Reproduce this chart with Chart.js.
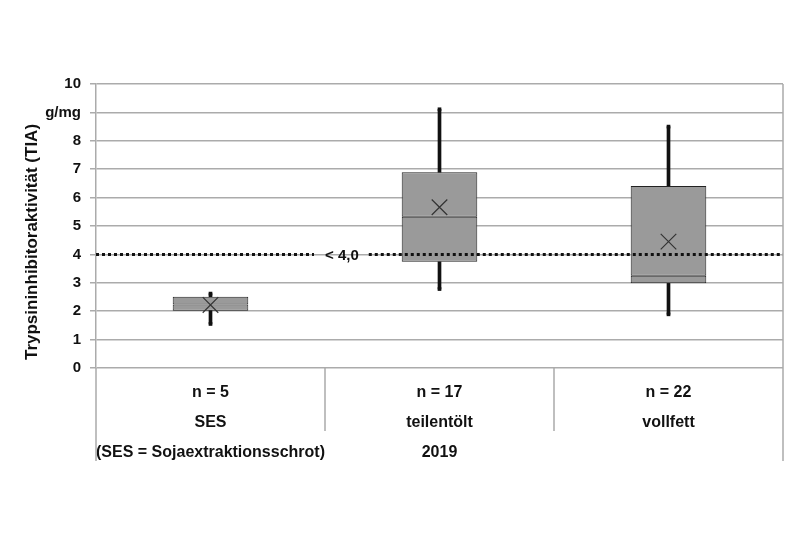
<!DOCTYPE html>
<html>
<head>
<meta charset="utf-8">
<script src="https://cdn.jsdelivr.net/npm/chart.js@4"></script>
<style>
  html, body { margin: 0; padding: 0; background: #fff; }
  #wrap { width: 800px; height: 533px; }
</style>
</head>
<body>
<div id="wrap"><canvas id="c" width="800" height="533"></canvas></div>
<script>
// --- Data ---
const categories = [
    ['n = 5', 'SES', '(SES = Sojaextraktionsschrot)'],
    ['n = 17', 'teilentölt', '2019'],
    ['n = 22', 'vollfett']
];
const mins    = [1.55, 2.78, 1.89];
const q1      = [2.02, 3.74, 2.98];
const medians = [2.24, 5.33, 3.25];
const q3      = [2.51, 6.89, 6.41];
const maxs    = [2.62, 9.11, 8.50];
const means   = [2.22, 5.66, 4.45];
const yTicks  = [0, 1, 2, 3, 4, 5, 6, 7, 8, 9, 10];
const yTickLabels = ['0', '1', '2', '3', '4', '5', '6', '7', '8', 'g/mg', '10'];
const threshold = 4;
const thresholdLabel = '< 4,0';
const yTitle = 'Trypsininhibitoraktivität (TIA)';

const FONT = "'Liberation Sans', Arial, sans-serif";
const GRID = '#ababab';

// --- Extra drawing: threshold line, table lines, axis title ---
const extras = {
    id: 'extras',
    afterDatasetsDraw(chart) {
        const { ctx, chartArea: a, scales: { x, y } } = chart;
        const half = (x.getPixelForValue(1) - x.getPixelForValue(0)) / 2;
        const div1 = x.getPixelForValue(0) + half;
        const yT = y.getPixelForValue(threshold);

        ctx.save();
        // dotted threshold
        ctx.font = 'bold 15px ' + FONT;
        const lw = ctx.measureText(thresholdLabel).width;
        ctx.strokeStyle = '#111'; ctx.lineWidth = 3; ctx.setLineDash([3, 3]);
        ctx.beginPath();
        ctx.moveTo(a.left, yT); ctx.lineTo(div1 - 11, yT);
        ctx.moveTo(div1 + lw + 10, yT); ctx.lineTo(a.right, yT);
        ctx.stroke();
        ctx.setLineDash([]);
        ctx.fillStyle = '#111'; ctx.textBaseline = 'middle'; ctx.textAlign = 'left';
        ctx.fillText(thresholdLabel, div1, yT + 1);

        // table lines
        ctx.strokeStyle = GRID; ctx.lineWidth = 1.5;
        ctx.beginPath();
        ctx.moveTo(a.left, a.bottom); ctx.lineTo(a.left, 461);
        ctx.moveTo(a.right, a.top); ctx.lineTo(a.right, 461);
        for (let i = 0; i < categories.length - 1; i++) {
            const d = x.getPixelForValue(i) + half;
            ctx.moveTo(d, a.bottom); ctx.lineTo(d, 431);
        }
        ctx.stroke();

        // y title
        ctx.translate(32, 242);
        ctx.rotate(-Math.PI / 2);
        ctx.font = 'bold 17px ' + FONT;
        ctx.textAlign = 'center';
        ctx.fillStyle = '#111';
        ctx.fillText(yTitle, 0, 0);
        ctx.restore();
    }
};

new Chart(document.getElementById('c'), {
    type: 'bar',
    data: {
        labels: categories,
        datasets: [
            {
                label: 'whisker low', data: mins.map((v, i) => [v, q1[i]]),
                backgroundColor: '#111', barThickness: 3, grouped: false, order: 5
            },
            {
                label: 'whisker high', data: maxs.map((v, i) => [q3[i], v]),
                backgroundColor: '#111', barThickness: 3, grouped: false, order: 5
            },
            {
                label: 'box low', data: medians.map((v, i) => [q1[i], v]),
                backgroundColor: '#9a9a9a', borderColor: '#222', borderWidth: 1, borderSkipped: false,
                barPercentage: 0.33, categoryPercentage: 1, grouped: false, order: 4
            },
            {
                label: 'box high', data: medians.map((v, i) => [v, q3[i]]),
                backgroundColor: '#9a9a9a', borderColor: '#222', borderWidth: 1, borderSkipped: false,
                barPercentage: 0.33, categoryPercentage: 1, grouped: false, order: 4
            },
            {
                type: 'line', label: 'max', data: maxs, showLine: false,
                pointStyle: 'rect', pointRadius: 2.6, backgroundColor: '#111', borderColor: '#111', borderWidth: 0, order: 3
            },
            {
                type: 'line', label: 'min', data: mins, showLine: false,
                pointStyle: 'rect', pointRadius: 2.6, backgroundColor: '#111', borderColor: '#111', borderWidth: 0, order: 3
            },
            {
                type: 'line', label: 'mean', data: means, showLine: false,
                pointStyle: 'crossRot', pointRadius: 11, borderColor: '#333', borderWidth: 1.2, order: 1
            }
        ]
    },
    options: {
        responsive: false,
        animation: false,
        events: [],
        layout: { padding: { top: 84, right: 17, left: 0, bottom: 0 } },
        plugins: { legend: { display: false }, tooltip: { enabled: false } },
        scales: {
            x: {
                offset: true,
                grid: { display: false },
                border: { display: false },
                ticks: {
                    color: '#111', padding: 1, maxRotation: 0, autoSkip: false,
                    font: { family: FONT, size: 16, weight: 'bold', lineHeight: 1.9 }
                },
                afterFit(s) { s.height = 165; }
            },
            y: {
                min: 0, max: 10,
                afterBuildTicks(s) { s.ticks = yTicks.map(v => ({ value: v })); },
                ticks: {
                    color: '#111', padding: 9,
                    font: { family: FONT, size: 15, weight: 'bold' },
                    callback: (v) => yTickLabels[yTicks.indexOf(v)]
                },
                grid: { color: GRID, lineWidth: 1.5, tickLength: 6 },
                border: { color: GRID, width: 1.5 },
                afterFit(s) { s.width = 96; }
            }
        }
    },
    plugins: [extras]
});
</script>
</body>
</html>
